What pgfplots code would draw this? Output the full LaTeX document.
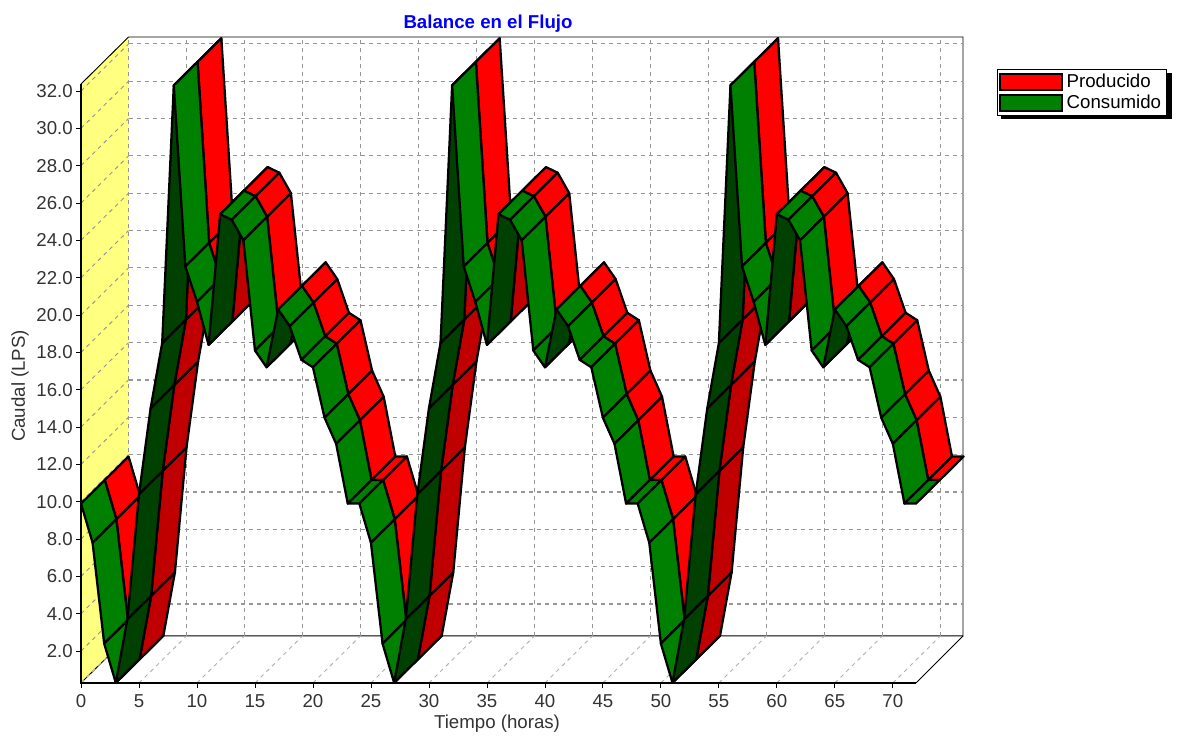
\documentclass[border=0pt]{standalone}
\usepackage{fontspec}
\setmainfont{Liberation Sans}
\usepackage{pgfplots}
\usepackage{pgfplotstable}
\pgfplotsset{compat=1.18}

\definecolor{rojo}{RGB}{255,0,0}
\definecolor{rojoosc}{RGB}{192,0,0}
\definecolor{verde}{RGB}{0,128,0}
\definecolor{verdeosc}{RGB}{0,64,0}
\definecolor{pared}{RGB}{255,255,128}
\definecolor{rejilla}{RGB}{150,150,150}

% caudal por hora, igual para las dos series
\pgfplotstableread{
h v
0 9.9
1 7.8
2 2.4
3 0.3
4 3.7
5 10.4
6 15.0
7 18.5
8 32.3
9 22.6
10 20.7
11 18.4
12 25.4
13 25.1
14 24.0
15 18.1
16 17.2
17 20.3
18 19.4
19 17.6
20 17.2
21 14.5
22 13.1
23 9.9
24 9.9
25 7.8
26 2.4
27 0.3
28 3.7
29 10.4
30 15.0
31 18.5
32 32.3
33 22.6
34 20.7
35 18.4
36 25.4
37 25.1
38 24.0
39 18.1
40 17.2
41 20.3
42 19.4
43 17.6
44 17.2
45 14.5
46 13.1
47 9.9
48 9.9
49 7.8
50 2.4
51 0.3
52 3.7
53 10.4
54 15.0
55 18.5
56 32.3
57 22.6
58 20.7
59 18.4
60 25.4
61 25.1
62 24.0
63 18.1
64 17.2
65 20.3
66 19.4
67 17.6
68 17.2
69 14.5
70 13.1
71 9.9
72 9.9
}\flujo

% profundidad del dibujo, en unidades de los ejes
\def\dx{4.1}
\def\dy{2.52}

% cinta: #1 fraccion delantera, #2 fraccion trasera, #3 color, #4 color oscuro
\newcommand{\cinta}[4]{%
  \pgfplotsforeachungrouped \i in {0,...,71}{%
    \pgfmathtruncatemacro{\j}{\i+1}%
    \pgfplotstablegetelem{\i}{v}\of\flujo \let\va=\pgfplotsretval
    \pgfplotstablegetelem{\j}{v}\of\flujo \let\vb=\pgfplotsretval
    \pgfmathsetmacro{\xaa}{\i+#1*\dx}\pgfmathsetmacro{\xab}{\i+#2*\dx}%
    \pgfmathsetmacro{\xba}{\j+#1*\dx}\pgfmathsetmacro{\xbb}{\j+#2*\dx}%
    \pgfmathsetmacro{\yaa}{\va+#1*\dy}\pgfmathsetmacro{\yab}{\va+#2*\dy}%
    \pgfmathsetmacro{\yba}{\vb+#1*\dy}\pgfmathsetmacro{\ybb}{\vb+#2*\dy}%
    \pgfmathparse{\vb>\va?1:0}%
    \ifnum\pgfmathresult=1 \def\col{#4}\else\def\col{#3}\fi
    \edef\tmp{\noexpand\addplot[forget plot,draw=black,line width=1.7pt,line join=round,fill=\col]
      coordinates {(\xaa,\yaa) (\xab,\yab) (\xbb,\ybb) (\xba,\yba)} --cycle;}%
    \tmp
  }%
}

\begin{document}
\begin{tikzpicture}[x=0.75pt,y=0.75pt]
\useasboundingbox (-81,-54) rectangle (1102,683);
\begin{axis}[
    at={(0,0)}, anchor=south west,
    scale only axis,
    width=661.5pt, height=484.5pt,
    xmin=0, xmax=76.05,
    ymin=0.29, ymax=34.89,
    clip=false,
    axis line style={draw=none},
    font=\fontsize{14pt}{16pt}\selectfont,
    xtick={0,5,...,70},
    ytick={2,4,...,32},
    tick align=outside,
    tick style={black,line width=0.6pt},
    major tick length=3.5pt,
    xtick pos=bottom, ytick pos=left,
    /pgf/number format/assume math mode=true,
    /pgf/number format/fixed,
    y tick label style={/pgf/number format/fixed zerofill,/pgf/number format/precision=1,text=black!80,inner xsep=2.5pt},
    x tick label style={text=black!80,inner ysep=2pt,yshift=-3pt},
    title={\textbf{Balance en el Flujo}},
    title style={at={(axis description cs:0.4615,1)},anchor=center,text=blue,yshift=4pt},
    xlabel={Tiempo (horas)},
    xlabel style={at={(axis description cs:0.4717,-0.0635)},anchor=center,text=black!80},
    ylabel={Caudal (LPS)},
    ylabel style={at={(axis description cs:-0.0692,0.4598)},anchor=center,text=black!80},
    legend cell align=left,
    legend style={at={(axis description cs:1.0385,0.9505)},anchor=north west,
      draw=black,line width=0.6pt,fill=white,inner xsep=1pt,inner ysep=2pt,
      row sep=0.8pt,font=\fontsize{14pt}{16pt}\selectfont,
      nodes={inner xsep=3pt,inner ysep=0.5pt,text height=11pt,text depth=3pt}},
]
% pared izquierda
\addplot[forget plot,fill=pared,draw=none] coordinates {(0,0.29) (0,32.37) (4.1,34.89) (4.1,2.81)} --cycle;

% caja del fondo
\addplot[forget plot,black,line width=0.7pt] coordinates {(0,32.37) (4.1,34.89) (76.05,34.89) (76.05,2.81) (4.1,2.81) (0,0.29)};
\addplot[forget plot,black,line width=0.7pt] coordinates {(72,0.29) (76.05,2.81)};

% rejilla
\pgfplotsforeachungrouped \h in {0,5,...,70}{%
  \pgfmathsetmacro{\xf}{\h+\dx}%
  \edef\tmp{\noexpand\addplot[forget plot,rejilla,line width=0.8pt,dash pattern=on 3pt off 3pt] coordinates {(\xf,2.81) (\xf,34.89)};
    \noexpand\addplot[forget plot,black!30,line width=0.7pt,dash pattern=on 3pt off 3pt] coordinates {(\h,0.29) (\xf,2.81)};}%
  \tmp
}
\pgfplotsforeachungrouped \v in {2,4,...,32}{%
  \pgfmathsetmacro{\yf}{\v+\dy}%
  \edef\tmp{\noexpand\addplot[forget plot,rejilla,line width=0.8pt,dash pattern=on 3pt off 3pt] coordinates {(4.1,\yf) (76.05,\yf)};
    \noexpand\addplot[forget plot,rejilla,line width=0.7pt,dash pattern=on 3pt off 3pt] coordinates {(0,\v) (4.1,\yf)};}%
  \tmp
}

% ejes delanteros
\addplot[forget plot,black,line width=1.8pt] coordinates {(0,32.37) (0,0.29) (72,0.29)};

% series: primero la de atras
\cinta{0.5}{1}{rojo}{rojoosc}
\cinta{0}{0.5}{verde}{verdeosc}

% sombra de la leyenda
\addplot[forget plot,fill=black,draw=none] coordinates {(79.33,32.96) (94.08,32.96) (94.08,30.5) (79.33,30.5)} --cycle;

\addlegendimage{legend image code/.code={\draw[line width=1.5pt,draw=black,fill=rojo] (1.5pt,-6pt) rectangle (48pt,6pt);}}
\addlegendentry{Producido}
\addlegendimage{legend image code/.code={\draw[line width=1.5pt,draw=black,fill=verde] (1.5pt,-6pt) rectangle (48pt,6pt);}}
\addlegendentry{Consumido}
\end{axis}
\end{tikzpicture}
\end{document}
